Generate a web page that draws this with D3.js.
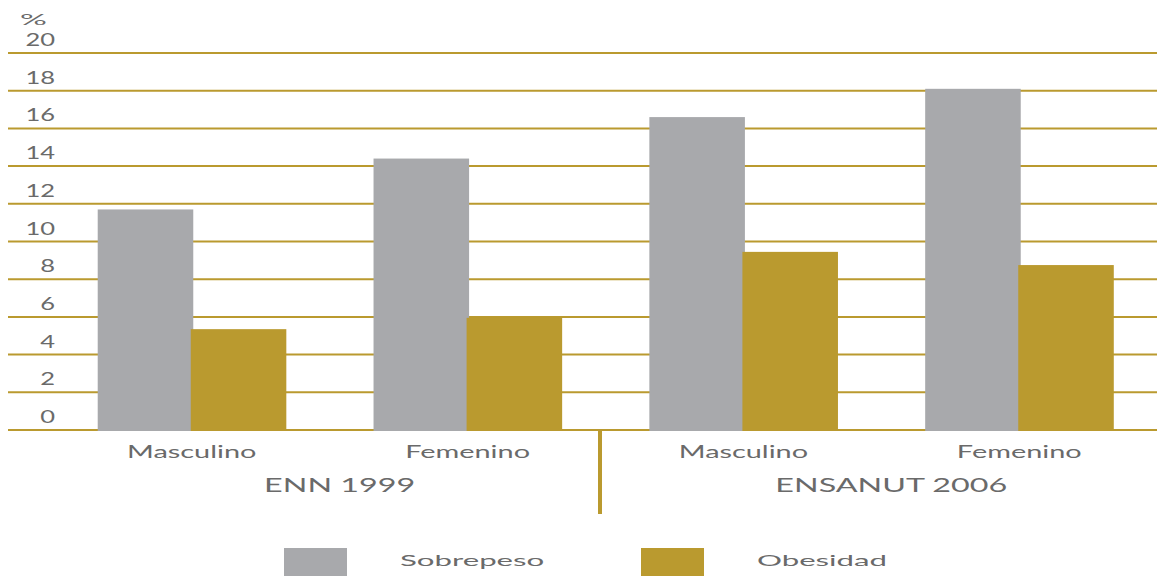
<!DOCTYPE html>
<html>
<head>
<meta charset="utf-8">
<script src="https://cdn.jsdelivr.net/npm/d3@7"></script>
<style>
  html, body { margin: 0; padding: 0; background: #fff; }
  text { font-family: Lato, "Open Sans", sans-serif; }
</style>
</head>
<body>
<div class="chart"></div>
<script>
// data
const groups = ["Masculino 1999", "Femenino 1999", "Masculino 2006", "Femenino 2006"];
const sexLabels = ["Masculino", "Femenino", "Masculino", "Femenino"];
const surveys = ["ENN 1999", "ENSANUT 2006"];
const series = ["Sobrepeso", "Obesidad"];
const sobrepeso = [11.7, 14.4, 16.6, 18.1];
const obesidad = [5.35, 5.95, 9.45, 8.75];
const yTicks = [0, 2, 4, 6, 8, 10, 12, 14, 16, 18, 20];

const width = 1157, height = 576;
const gold = "#BA9A2F", grey = "#A8A9AC", textCol = "#6a6a6a";
const SX = 1.7; // the source text is stretched sideways

const svg = d3.select(".chart").append("svg")
    .attr("width", width)
    .attr("height", height);

const y = d3.scaleLinear().domain([0, 20]).range([430, 53]);

const x = d3.scaleBand()
    .domain(groups)
    .range([10, 1201])
    .padding(0.318);

const xs = d3.scaleBand()
    .domain(series)
    .range([0, x.bandwidth()]);

const colour = d3.scaleOrdinal().domain(series).range([grey, gold]);

// stretched text helper
function label(g, tx, ty, str, size, anchor, sx) {
    g.append("g")
        .attr("transform", "translate(" + tx + "," + ty + ") scale(" + (sx || SX) + ",1)")
      .append("text")
        .attr("text-anchor", anchor)
        .attr("font-size", size)
        .attr("fill", textCol)
        .text(str);
}

// gridlines
svg.append("g").selectAll("line")
    .data(yTicks)
    .enter().append("line")
        .attr("x1", 8)
        .attr("x2", width)
        .attr("y1", d => y(d))
        .attr("y2", d => y(d))
        .attr("stroke", gold)
        .attr("stroke-width", 2);

// tick labels sit above their line
const tickG = svg.append("g");
yTicks.forEach(t => label(tickG, 55, y(t) - 7, t, 17, "end", 1.5));
label(tickG, 47, 25, "%", 16, "end", 2.1);

// bars
const rows = groups.map((g, i) => ({ group: g, Sobrepeso: sobrepeso[i], Obesidad: obesidad[i] }));

const barG = svg.append("g").selectAll("g")
    .data(rows)
    .enter().append("g")
        .attr("transform", d => "translate(" + x(d.group) + ",0)");

barG.selectAll("rect")
    .data(d => series.map(s => ({ key: s, value: d[s] })))
    .enter().append("rect")
        .attr("x", d => d.key === "Obesidad" ? xs(d.key) - 1 : xs(d.key))
        .attr("width", xs.bandwidth() + 1.5)
        .attr("y", d => y(d.value))
        .attr("height", d => y(0) - y(d.value) + 1)
        .attr("fill", d => colour(d.key));

// separator between the two surveys
svg.append("line")
    .attr("x1", 600).attr("x2", 600)
    .attr("y1", 430).attr("y2", 514)
    .attr("stroke", gold)
    .attr("stroke-width", 4);

// category labels
const catG = svg.append("g");
groups.forEach((g, i) => label(catG, x(g) + x.bandwidth() / 2, 458, sexLabels[i], 17, "middle"));

// survey labels
surveys.forEach((s, i) => {
    const a = groups[i * 2], b = groups[i * 2 + 1];
    const cx = (x(a) + x(b) + x.bandwidth()) / 2 + 10;
    label(catG, cx, 492, s, 19, "middle");
});

// legend
const legX = [284, 641];
const legG = svg.append("g");
series.forEach((s, i) => {
    legG.append("rect")
        .attr("x", legX[i])
        .attr("y", 548)
        .attr("width", 63)
        .attr("height", 30)
        .attr("fill", colour(s));
    label(legG, legX[i] + 116, 566, s, 16, "start", 1.95);
});
</script>
</body>
</html>
